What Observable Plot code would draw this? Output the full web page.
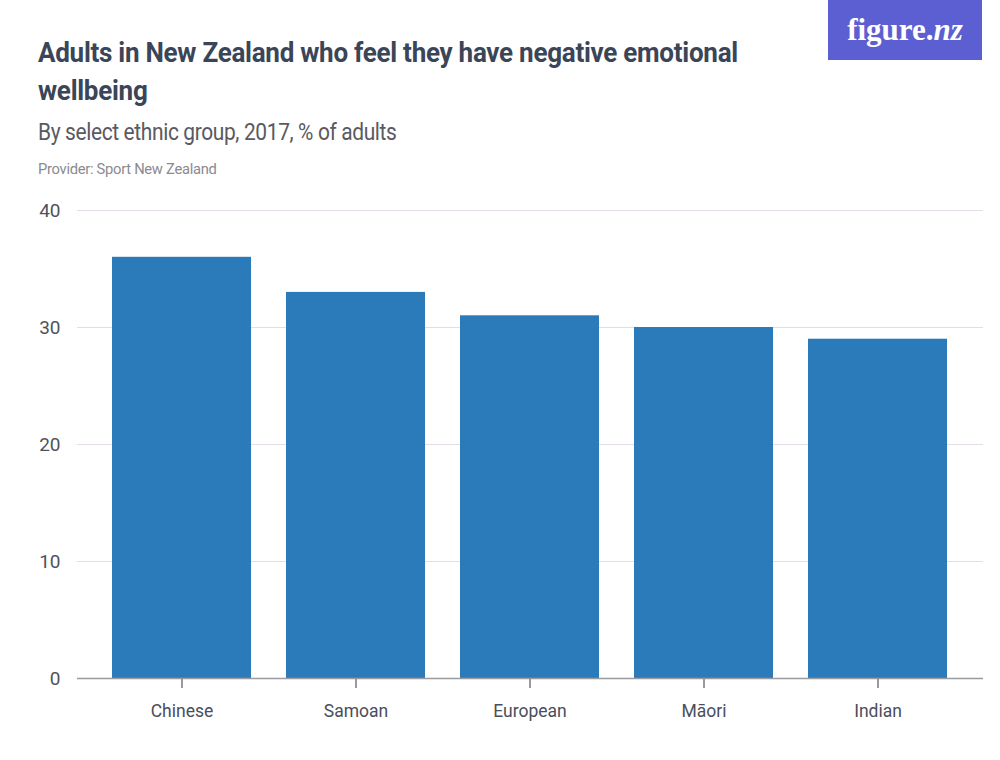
<!DOCTYPE html>
<html>
<head>
<meta charset="utf-8">
<script src="https://cdn.jsdelivr.net/npm/d3@7"></script>
<script src="https://cdn.jsdelivr.net/npm/@observablehq/plot@0.6"></script>
<style>
  body { margin: 0; background: #fff; width: 1000px; height: 760px; position: relative; overflow: hidden; }
  .t { position: absolute; left: 38px; font-family: "Roboto", sans-serif; white-space: nowrap; transform-origin: left top; }
  #title { top: 34px; font-size: 28px; font-weight: bold; color: #3b4558; line-height: 38px; letter-spacing: -0.3px; transform: scaleX(0.93); }
  #subtitle { top: 119px; font-size: 23px; color: #5a5a62; letter-spacing: -0.4px; transform: scaleX(0.91); }
  #provider { top: 160px; font-size: 15.5px; color: #8a8a90; letter-spacing: -0.3px; transform: scaleX(0.95); }
  #logo { position: absolute; left: 828px; top: 0; width: 154px; height: 60px; background: #5b5fd2; color: #fff;
          font-family: "Liberation Serif", "DejaVu Serif", serif; font-weight: bold; font-size: 31px;
          display: flex; align-items: center; justify-content: center; }
  #chart { position: absolute; left: 0; top: 190px; }
</style>
</head>
<body>
<div id="logo">figure.<i>nz</i></div>
<div class="t" id="title">Adults in New Zealand who feel they have negative emotional<br>wellbeing</div>
<div class="t" id="subtitle">By select ethnic group, 2017, % of adults</div>
<div class="t" id="provider">Provider: Sport New Zealand</div>
<div id="chart"></div>
<script>
const groups = ["Chinese", "Samoan", "European", "Māori", "Indian"];
const values = [36, 33, 31, 30, 29];
const yTicks = [0, 10, 20, 30, 40];

const data = groups.map((g, i) => ({group: g, value: values[i]}));

const chart = Plot.plot({
  width: 1000,
  height: 545,
  marginLeft: 77,
  marginRight: 17,
  marginTop: 20,
  marginBottom: 57,
  style: { fontFamily: "Roboto, sans-serif", background: "transparent" },
  x: { domain: groups, padding: 0.2, label: null },
  y: { domain: [0, 40], ticks: yTicks, label: null },
  marks: [
    Plot.gridY(yTicks.filter(d => d > 0), { stroke: "#e4dde6", strokeOpacity: 1, strokeWidth: 1.2 }),
    Plot.barY(data, { x: "group", y: "value", fill: "#2b7bba" }),
    Plot.axisX({ tickSize: 10, stroke: "#9a9a9e", strokeWidth: 2, text: null }),
    Plot.axisX({ tickSize: 0, tickPadding: 26, fontSize: 17.5, fill: "#4a4e5c" }),
    Plot.ruleY([0], { stroke: "#9a9a9e", strokeWidth: 1.5 }),
    Plot.axisY(yTicks, { tickSize: 0, tickPadding: 17, fontSize: 19, fill: "#50525c", anchor: "left" })
  ]
});
document.getElementById("chart").appendChild(chart);
</script>
</body>
</html>
